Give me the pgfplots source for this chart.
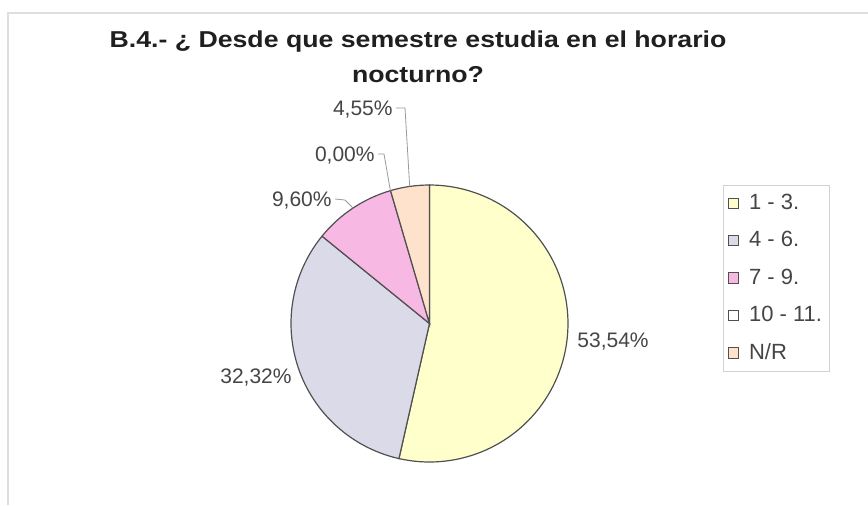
\documentclass[border=0pt]{standalone}
\usepackage{pgfplots}
\pgfplotsset{compat=1.18}
\usepgfplotslibrary{polar}
\usepackage{fontspec}
\setmainfont{Liberation Sans}
\newfontfamily\titlefont[FakeStretch=1.16]{Liberation Sans}

\definecolor{cA}{HTML}{FFFFCC}
\definecolor{cB}{HTML}{DADAE9}
\definecolor{cC}{HTML}{F8B8E4}
\definecolor{cD}{HTML}{FFFFFF}
\definecolor{cE}{HTML}{FFE2CC}
\definecolor{edge}{HTML}{505050}
\definecolor{lbl}{HTML}{454545}

% shares in percent, clockwise from 12 o'clock
\def\vA{53.54} % 1 - 3.
\def\vB{32.32} % 4 - 6.
\def\vC{9.60}  % 7 - 9.
\def\vD{0.00}  % 10 - 11.
\def\vE{4.55}  % N/R

\pgfmathsetmacro\aA{90-3.6*\vA}
\pgfmathsetmacro\aB{\aA-3.6*\vB}
\pgfmathsetmacro\aC{\aB-3.6*\vC}
\pgfmathsetmacro\aD{\aC-3.6*\vD}
\pgfmathsetmacro\aE{\aD-3.6*\vE}

\begin{document}
\begin{tikzpicture}
\begin{scope}[x=0.5pt,y=-0.5pt]
  \useasboundingbox (0,0) rectangle (868,505);
  \draw[black!13, line width=1pt] (8,505) -- (8,13) -- (868,13);
  \coordinate (pc) at (429.5,323.5);
\end{scope}

\begin{polaraxis}[
    at={(pc)}, anchor=origin,
    width=138.5pt, height=138.5pt, scale only axis,
    ymin=0, ymax=1,
    hide axis, clip=false,
    legend style={
        at={(1.56,0.325)}, anchor=south west,
        draw=black!18, fill=white,
        font=\fontsize{11}{12.5}\selectfont, text=lbl,
        inner xsep=2pt, inner ysep=3pt,
        row sep=6.5pt,
        nodes={inner sep=1.5pt},
        legend cell align=left},
    legend image code/.code={
        \draw[#1, draw=edge, line width=0.5pt] (0pt,-2.6pt) rectangle (5.2pt,2.6pt);
        \path[draw=none, fill=none] (5.2pt,0pt) -- (9pt,0pt);},
]
\addplot[fill=cA, draw=edge, line width=0.6pt, domain=\aA:90, samples=90] {1} -- (axis cs:0,0) -- cycle;
\addlegendentry{1 - 3.}
\addplot[fill=cB, draw=edge, line width=0.6pt, domain=\aB:\aA, samples=60] {1} -- (axis cs:0,0) -- cycle;
\addlegendentry{4 - 6.}
\addplot[fill=cC, draw=edge, line width=0.6pt, domain=\aC:\aB, samples=20] {1} -- (axis cs:0,0) -- cycle;
\addlegendentry{7 - 9.}
\addlegendimage{fill=cD}
\addlegendentry{10 - 11.}
\addplot[fill=cE, draw=edge, line width=0.6pt, domain=\aE:\aD, samples=12] {1} -- (axis cs:0,0) -- cycle;
\addlegendentry{N/R}
\end{polaraxis}

\begin{scope}[x=0.5pt,y=-0.5pt]
  \node[anchor=base, inner sep=0, text=black!88,
        font=\titlefont\bfseries\fontsize{11.5}{14}\selectfont] at (418,47)
        {B.4.- ¿ Desde que semestre estudia en el horario};
  \node[anchor=base, inner sep=0, text=black!88,
        font=\titlefont\bfseries\fontsize{11.5}{14}\selectfont] at (418,82)
        {nocturno?};

  \begin{scope}[every node/.style={inner sep=0, text=lbl, font=\fontsize{10.5}{12}\selectfont}]
    \node[anchor=base west] at (577,347) {53,54\%};
    \node[anchor=base east] at (292,383) {32,32\%};
    \node[anchor=base east] at (332,206) {9,60\%};
    \node[anchor=base east] at (375,161) {0,00\%};
    \node[anchor=base east] at (393,115) {4,55\%};
  \end{scope}

  \draw[black!40, line width=0.4pt] (396,108) -- (405,108) -- (409.7,186.5);
  \draw[black!40, line width=0.4pt] (378,154) -- (384,154) -- (390.4,190.6);
  \draw[black!40, line width=0.4pt] (335,199) -- (345,200) -- (353,208);
\end{scope}
\end{tikzpicture}
\end{document}
